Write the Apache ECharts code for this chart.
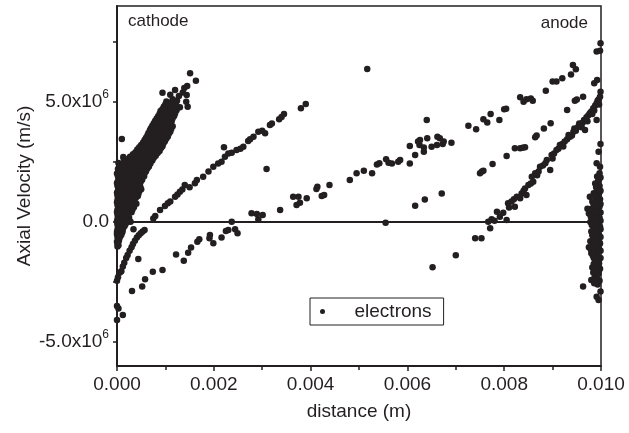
<!DOCTYPE html>
<html><head><meta charset="utf-8">
<script src="https://cdn.jsdelivr.net/npm/echarts@6/dist/echarts.min.js"></script>
<style>html,body{margin:0;padding:0;background:#fff}#c{width:629px;height:433px}</style>
</head><body><div id="c"></div>
<script>
// distance in mm, axial velocity in 10^6 m/s
const cathodeTip = [[1.51,6.20],[1.63,5.89],[1.45,5.67],[1.39,5.58],[0.94,5.39],[1.20,5.50],[1.15,5.11],[1.28,5.25],[1.44,5.29],[1.43,5.01],[1.46,4.80],[1.30,4.78],[1.36,5.40],[1.10,5.30],[1.24,5.05],
  [0.10,3.46],[0.14,2.65],[0.27,2.72],[0.06,2.30],[0.19,2.10],[0.37,2.58],[0.03,2.46],[0.13,2.71]];
const cathodeCore = [
  [1.02,5.02],[1.09,4.96],[1.18,5.04],
  [0.97,4.81],[1.05,4.77],[1.12,4.85],[1.21,4.79],
  [0.90,4.62],[0.98,4.57],[1.07,4.64],[1.16,4.59],[1.23,4.66],
  [0.85,4.41],[0.93,4.37],[1.01,4.44],[1.10,4.38],[1.18,4.42],
  [0.79,4.22],[0.87,4.17],[0.95,4.24],[1.04,4.19],[1.13,4.21],
  [0.73,4.01],[0.81,3.97],[0.90,4.04],[0.99,3.98],[1.08,4.03],[1.15,3.99],
  [0.68,3.82],[0.76,3.77],[0.85,3.84],[0.93,3.79],[1.02,3.81],[1.10,3.76],
  [0.63,3.61],[0.71,3.57],[0.80,3.63],[0.88,3.58],[0.97,3.62],[1.05,3.56],
  [0.57,3.42],[0.65,3.37],[0.74,3.44],[0.83,3.38],[0.92,3.41],[0.99,3.36],
  [0.50,3.21],[0.59,3.17],[0.68,3.24],[0.77,3.18],[0.86,3.22],[0.94,3.16],
  [0.42,3.02],[0.52,2.97],[0.61,3.04],[0.70,2.98],[0.79,3.01],[0.88,2.96],
  [0.33,2.82],[0.44,2.77],[0.54,2.84],[0.63,2.78],[0.72,2.81],[0.80,2.76],
  [0.22,2.61],[0.34,2.57],[0.45,2.63],[0.55,2.58],[0.64,2.62],[0.73,2.56],
  [0.10,2.42],[0.21,2.37],[0.33,2.43],[0.44,2.38],[0.53,2.41],[0.62,2.36],[0.69,2.44],
  [0.02,2.21],[0.12,2.17],[0.24,2.23],[0.35,2.18],[0.45,2.22],[0.54,2.16],[0.63,2.24],
  [0.00,2.02],[0.09,1.97],[0.19,2.04],[0.29,1.98],[0.39,2.01],[0.48,1.96],[0.57,2.03],
  [0.04,1.82],[0.13,1.77],[0.23,1.84],[0.33,1.78],[0.43,1.81],[0.52,1.76],
  [0.00,1.62],[0.09,1.57],[0.18,1.63],[0.28,1.58],[0.38,1.61],[0.47,1.56],
  [0.03,1.42],[0.12,1.37],[0.22,1.44],[0.32,1.38],[0.42,1.41],[0.50,1.36],
  [0.00,1.22],[0.08,1.17],[0.17,1.23],[0.27,1.18],[0.36,1.21],[0.44,1.16],
  [0.02,1.02],[0.11,0.97],[0.20,1.04],[0.30,0.98],[0.39,1.01],
  [0.00,0.82],[0.07,0.77],[0.15,0.84],[0.24,0.78],[0.33,0.81],[0.40,0.76],
  [0.03,0.62],[0.10,0.57],[0.19,0.63],[0.27,0.58],[0.35,0.61],
  [0.00,0.42],[0.06,0.37],[0.14,0.43],[0.22,0.38],[0.30,0.41],
  [0.02,0.22],[0.09,0.17],[0.17,0.23],[0.25,0.18],
  [0.00,0.02],[0.06,-0.03],[0.13,0.03],[0.20,-0.02],[0.28,0.01],
  [0.02,-0.18],[0.08,-0.23],[0.15,-0.19],
  [0.00,-0.42],[0.05,-0.37],[0.11,-0.43],
  [0.01,-0.62],[0.07,-0.58],
  [0.00,-0.82],[0.04,-0.78],
  [0.01,-1.02],[0.03,-0.97],[0.34,-0.30]];
const cathodeCoreFill = [
  [1.00,4.91],[1.07,4.88],[1.14,4.93],[1.22,4.89],
  [0.94,4.71],[1.01,4.68],[1.09,4.73],[1.17,4.69],
  [0.88,4.51],[0.95,4.48],[1.04,4.53],[1.13,4.49],[1.20,4.52],
  [0.82,4.31],[0.90,4.28],[0.98,4.33],[1.07,4.29],[1.15,4.32],
  [0.76,4.11],[0.84,4.08],[0.92,4.13],[1.01,4.09],[1.10,4.12],
  [0.70,3.91],[0.78,3.88],[0.87,3.93],[0.96,3.89],[1.05,3.92],[1.12,3.88],
  [0.65,3.71],[0.73,3.68],[0.82,3.73],[0.90,3.69],[0.99,3.72],[1.07,3.68],
  [0.60,3.51],[0.68,3.48],[0.77,3.53],[0.86,3.49],[0.94,3.52],[1.02,3.48],
  [0.54,3.31],[0.62,3.28],[0.71,3.33],[0.80,3.29],[0.89,3.32],[0.96,3.28],
  [0.46,3.11],[0.55,3.08],[0.64,3.13],[0.73,3.09],[0.82,3.12],[0.91,3.08],
  [0.38,2.91],[0.48,2.88],[0.57,2.93],[0.66,2.89],[0.75,2.92],[0.84,2.88],
  [0.28,2.71],[0.39,2.68],[0.49,2.73],[0.59,2.69],[0.68,2.72],[0.76,2.68],
  [0.16,2.51],[0.27,2.48],[0.39,2.53],[0.50,2.49],[0.59,2.52],[0.68,2.48],
  [0.06,2.31],[0.16,2.28],[0.27,2.33],[0.38,2.29],[0.49,2.32],[0.58,2.28],[0.66,2.31],
  [0.04,2.11],[0.14,2.08],[0.24,2.13],[0.34,2.09],[0.44,2.12],[0.52,2.08],[0.60,2.11],
  [0.02,1.91],[0.11,1.88],[0.21,1.93],[0.31,1.89],[0.41,1.92],[0.50,1.88],[0.56,1.91],
  [0.02,1.71],[0.11,1.68],[0.20,1.73],[0.30,1.69],[0.40,1.72],[0.49,1.68],
  [0.01,1.51],[0.10,1.48],[0.20,1.53],[0.30,1.49],[0.40,1.52],[0.48,1.48],
  [0.02,1.31],[0.10,1.28],[0.19,1.33],[0.29,1.29],[0.39,1.32],[0.46,1.28],
  [0.01,1.11],[0.09,1.08],[0.18,1.13],[0.28,1.09],[0.37,1.12],[0.43,1.08],
  [0.01,0.91],[0.09,0.88],[0.18,0.93],[0.27,0.89],[0.36,0.92],
  [0.01,0.71],[0.08,0.68],[0.17,0.73],[0.25,0.69],[0.33,0.72],
  [0.01,0.51],[0.08,0.48],[0.16,0.53],[0.24,0.49],[0.32,0.52],
  [0.01,0.31],[0.07,0.28],[0.15,0.33],[0.23,0.29],
  [0.01,0.11],[0.08,0.08],[0.16,0.13],[0.24,0.09],
  [0.01,-0.09],[0.04,-0.12],[0.10,-0.08],[0.17,-0.11],
  [0.01,-0.31],[0.06,-0.28],[0.12,-0.32],
  [0.00,-0.51],[0.04,-0.48],[0.09,-0.53],
  [0.02,-0.71],[0.05,-0.68],
  [0.01,-0.91]];
const cathodeReturn = [[0.00,-2.45],[0.02,-2.30],[0.06,-2.10],[0.09,-2.05],[0.12,-1.85],[0.15,-1.70],[0.19,-1.50],[0.22,-1.38],[0.26,-1.20],[0.30,-1.05],[0.33,-0.92],[0.37,-0.78],[0.41,-0.65],[0.45,-0.55],[0.49,-0.47],[0.53,-0.40],[0.57,-0.33],[0.44,-1.54],
  [0.03,-3.60],[0.12,-3.88],[0.00,-4.08],[0.00,-3.50]];
const slowNegative = [[0.31,-2.88],[0.52,-2.69],[0.58,-2.39],[0.74,-2.07],[0.94,-2.00],[1.22,-1.35],[1.38,-1.61],[1.47,-1.28],[1.53,-1.06],[1.66,-0.82],[1.70,-0.72],[1.92,-0.54],[1.99,-0.89],[1.91,-0.68],[2.16,-0.65],[2.25,-0.38],[2.30,-0.33],[2.44,-0.30],[2.49,-0.47],[2.37,0.01]];
const upperBranch = [[0.75,0.15],[0.79,0.25],[0.89,0.50],[0.99,0.67],[1.05,0.78],[1.10,0.85],[1.20,1.05],[1.25,1.15],[1.30,1.26],[1.35,1.35],[1.40,1.54],[1.50,1.45],[1.61,1.61],[1.65,1.75],[1.78,1.89],[1.89,2.10],[1.99,2.30],[2.09,2.44],[2.16,2.51],[2.23,2.72],[2.21,3.11],[2.30,2.85],[2.37,2.89],[2.47,3.00],[2.55,3.05],[2.61,3.14],[2.71,3.38],[2.75,3.45],[2.82,3.55],[2.92,3.76],[3.00,3.80],[3.06,3.70],[3.09,2.21],[3.16,4.04],[3.20,4.10],[3.35,4.28],[3.40,4.38],[3.45,4.50],[3.80,4.74],[3.90,4.92]];
const middleBand = [[2.78,0.36],[2.89,0.33],[2.92,0.11],[3.01,0.29],[3.37,0.50],[3.64,1.05],[3.75,1.05],[3.71,0.71],[3.78,0.80],[3.92,0.99],[4.14,1.47],[4.12,1.38],[4.23,1.08],[4.28,1.13],[4.39,1.54],[4.81,1.75],[4.95,2.03],[5.10,2.14],[5.27,2.03],[5.37,2.40],[5.42,2.45],[5.56,2.61],[5.61,2.47],[5.68,2.44],[5.81,2.51],[5.85,2.58],[6.05,3.17],[6.05,2.44],[6.16,2.79],[6.22,3.35],[6.26,3.42],[6.25,3.21],[6.34,2.93],[6.34,3.10],[6.41,3.49],[6.40,4.25],[6.50,3.14],[6.61,3.21],[6.62,3.55],[6.67,3.49],[6.73,3.25],[6.75,3.35],[6.91,3.30],
  [5.55,-0.03],[5.17,6.38]];
const upperAnodeLine = [[7.26,4.01],[7.42,3.86],[7.57,4.28],[7.65,4.15],[7.72,4.50],[7.90,4.25],[8.00,4.70],[8.04,4.72],[8.33,5.20],[8.40,5.01],[8.46,5.11],[8.55,5.15],[8.59,5.05],[8.86,5.47],[9.00,5.85],[9.08,5.85],[9.20,5.99],[9.38,6.15],[9.42,6.54],[9.48,6.36]];
const midAnodeLine = [[6.16,0.68],[6.36,0.94],[6.71,1.19],[6.52,-1.89],[7.00,-1.39],[7.40,-0.68],[7.53,-0.68],[7.50,2.03],[7.54,2.10],[7.57,2.14],[7.76,2.42],[8.05,2.75],[8.22,3.07],[8.33,3.07],[8.38,3.09],[8.43,3.11],[8.64,3.53],[8.67,3.60],[8.82,3.90],[8.96,4.11],[9.30,4.67],[9.46,5.05],[9.50,5.10],[9.63,5.22],[9.86,5.78],[9.92,5.92],
  [9.99,7.45],[9.91,7.10],[9.98,7.14],[9.99,5.43]];
const anodeBranch = [[7.67,0.01],[7.71,-0.26],[7.74,0.11],[7.80,0.05],[7.85,0.43],[7.91,0.22],[7.98,0.39],[8.05,0.08],[8.08,0.78],[8.10,0.60],[8.15,0.85],[8.20,0.95],[8.22,0.64],[8.26,1.05],[8.33,0.99],[8.36,1.19],[8.40,1.30],[8.43,1.40],[8.46,1.13],[8.50,1.54],[8.55,1.60],[8.57,1.89],[8.60,1.68],[8.64,2.03],[8.68,1.95],[8.71,2.10],[8.74,2.30],[8.80,2.35],[8.85,2.45],[8.88,2.58],[8.95,2.17],[8.98,2.79],[9.00,2.65],[9.03,2.85],[9.08,3.00],[9.12,3.05],[9.15,3.21],[9.20,3.25],[9.22,3.15],[9.25,3.35],[9.30,3.45],[9.33,3.62],[9.36,3.55],[9.40,3.60],[9.43,3.76],[9.45,3.90],[9.48,3.80],[9.53,3.97],[9.55,4.10],[9.58,4.05],[9.60,3.95],[9.62,4.14],[9.65,4.25],[9.67,3.83],[9.70,4.36],[9.72,4.20],[9.74,4.45],[9.77,4.53],[9.80,4.60],[9.82,4.50],[9.84,4.74],[9.86,4.65],[9.88,4.85],[9.91,4.95],[9.91,4.25],[9.93,5.05],[9.95,5.10],[9.96,4.90],[9.98,5.22]];
const anodeWall = [[9.99,3.25],[9.95,2.93],[9.91,2.45],[9.98,2.30],[9.97,2.03],[9.99,1.85],[9.94,1.70],[9.88,1.60],[9.97,1.50],[9.92,1.35],[9.99,1.30],[9.85,1.20],[9.95,1.15],[9.77,1.05],[9.90,1.00],[9.98,0.95],[9.82,0.85],[9.93,0.80],[9.86,0.70],[9.97,0.65],[9.80,0.55],[9.91,0.50],[9.99,0.40],[9.75,0.35],[9.87,0.30],[9.95,0.25],[9.82,0.15],[9.93,0.10],[9.99,0.05],[9.78,0.00],[9.88,-0.05],[9.96,-0.10],[9.84,-0.20],[9.92,-0.25],[9.99,-0.30],[9.80,-0.40],[9.89,-0.45],[9.96,-0.55],[9.85,-0.65],[9.93,-0.70],[9.78,-0.80],[9.90,-0.85],[9.98,-0.90],[9.83,-1.00],[9.94,-1.05],[9.87,-1.15],[9.99,-1.20],[9.80,-1.30],[9.91,-1.35],[9.85,-1.50],[9.96,-1.55],[9.88,-1.65],[9.93,-1.80],[9.82,-1.90],[9.98,-1.95],[9.90,-2.05],[9.87,-2.28],[9.95,-2.15],[9.80,-2.42],[9.63,-2.69],[9.93,-2.60],[9.91,-3.11],[9.95,-3.25],[9.99,-2.90],[9.75,-1.05],[9.72,0.55]];
const anodeWallFill = [[9.92,1.90],[9.96,1.78],[9.90,1.45],[9.97,1.25],[9.88,1.10],[9.94,0.92],[9.84,0.78],[9.99,0.75],[9.90,0.62],[9.83,0.45],[9.95,0.42],[9.90,0.20],[9.79,0.22],[9.97,0.18],[9.85,0.05],[9.94,-0.02],[9.81,-0.12],[9.90,-0.15],[9.98,-0.20],[9.86,-0.32],[9.94,-0.38],[9.82,-0.55],[9.91,-0.60],[9.99,-0.62],[9.87,-0.78],[9.96,-0.80],[9.84,-0.92],[9.92,-0.95],[9.79,-1.15],[9.96,-1.12],[9.89,-1.25],[9.94,-1.45],[9.83,-1.40],[9.99,-1.50],[9.91,-1.60],[9.85,-1.75],[9.96,-1.72],[9.89,-1.90],[9.95,-2.00],[9.84,-2.10],[9.92,-2.35],[9.97,-2.45],[9.86,-2.55]];
const xTickLabels = ['0.000','0.002','0.004','0.006','0.008','0.010'];
const yTickValues = [-5e6, 0, 5e6];

const groups = [cathodeTip, cathodeCore, cathodeCoreFill, cathodeReturn, slowNegative, upperBranch, middleBand, upperAnodeLine, midAnodeLine, anodeBranch, anodeWall, anodeWallFill];
const points = [];
groups.forEach(g => g.forEach(p => points.push([p[0] * 1e-3, p[1] * 1e6])));

const ink = '#231f20';
const FONT = 'Liberation Sans, Arial, sans-serif';
const chart = echarts.init(document.getElementById('c'), null, {renderer: 'canvas'});
chart.setOption({
  animation: false,
  backgroundColor: '#fff',
  textStyle: {fontFamily: FONT, color: ink},
  grid: {left: 117, right: 28, top: 6, bottom: 67, show: true, borderColor: ink, borderWidth: 1.5, backgroundColor: 'transparent'},
  legend: {
    data: ['electrons'], left: 310, top: 298, orient: 'horizontal',
    padding: [4, 12, 4, 10], borderColor: ink, borderWidth: 1, backgroundColor: '#fff',
    icon: 'circle', itemWidth: 54, itemHeight: 5,
    textStyle: {fontSize: 19, color: ink, fontFamily: FONT}
  },
  xAxis: {
    type: 'value', min: 0, max: 0.01, interval: 0.002,
    name: 'distance (m)', nameLocation: 'middle', nameGap: 36, nameMoveOverlap: false,
    nameTextStyle: {fontSize: 19, color: ink, fontFamily: FONT},
    axisLine: {onZero: false, lineStyle: {color: ink, width: 2}},
    axisTick: {show: true, inside: false, length: 5, lineStyle: {color: ink, width: 1.5}},
    minorTick: {show: true, splitNumber: 2, length: 4, lineStyle: {color: ink, width: 1.5}},
    splitLine: {show: false},
    axisLabel: {fontSize: 19, color: ink, margin: 9, fontFamily: FONT,
      formatter: v => xTickLabels[Math.round(v / 0.002)] || ''}
  },
  yAxis: {
    type: 'value', min: -6e6, max: 9e6,
    name: 'Axial Velocity (m/s)', nameLocation: 'middle', nameGap: 83, nameRotate: 90, nameMoveOverlap: false,
    nameTextStyle: {fontSize: 19, color: ink, fontFamily: FONT},
    axisLine: {onZero: false, lineStyle: {color: ink, width: 2}},
    axisTick: {show: true, length: 4, lineStyle: {color: ink, width: 1.5}, customValues: [-5e6, -2.5e6, 0, 2.5e6, 5e6, 7.5e6]},
    splitLine: {show: false},
    axisLabel: {
      customValues: yTickValues, margin: 8, fontFamily: FONT,
      formatter: v => v === 0 ? '{b|0.0}' : '{b|' + (v / 1e6).toFixed(1) + 'x10}{s|6}',
      rich: {b: {fontSize: 19, color: ink, fontFamily: FONT}, s: {fontSize: 12, color: ink, fontFamily: FONT, padding: [0, 0, 14, 0]}}
    }
  },
  graphic: [
    {type: 'text', left: 128, top: 13, style: {text: 'cathode', font: '17px ' + FONT, fill: ink}},
    {type: 'text', right: 41, top: 15, style: {text: 'anode', font: '17px ' + FONT, fill: ink}}
  ],
  series: [{
    name: 'electrons', type: 'scatter', data: points,
    symbol: 'circle', symbolSize: 6.5,
    itemStyle: {color: ink, opacity: 1},
    markLine: {silent: true, symbol: 'none', label: {show: false},
      lineStyle: {color: ink, width: 2, type: 'solid'}, data: [{yAxis: 0}]}
  }]
});
</script></body></html>
